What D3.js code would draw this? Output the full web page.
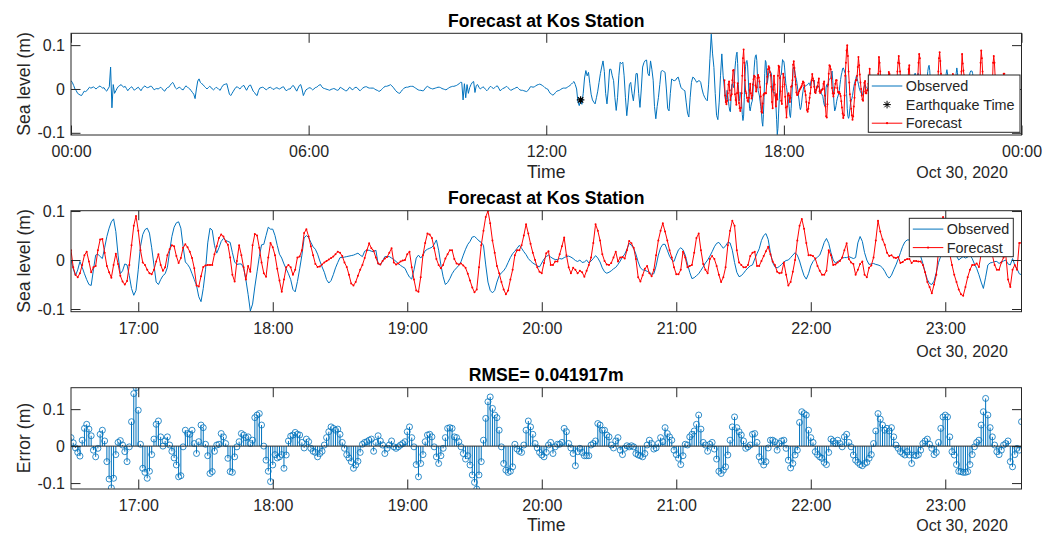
<!DOCTYPE html>
<html>
<head>
<meta charset="utf-8">
<script src="https://cdn.jsdelivr.net/npm/d3@7"></script>
<style>
body { margin: 0; background: #fff; }
svg { font-family: "Liberation Sans", Arial, Helvetica, sans-serif; }
.axis path.domain { display: none; }
.axis line { stroke: #262626; }
.axis text { fill: #262626; font-size: 16px; font-family: "Liberation Sans", Arial, sans-serif; }
</style>
</head>
<body>
<div id="chart"></div>
<script>
// ---- data (sea level in m) ----
const dateLabel = "Oct 30, 2020";
const stationTitle = "Forecast at Kos Station";
const rmseTitle = "RMSE= 0.041917m";

// observed record before the forecast window, one value every 2 minutes from 00:00
const earlyStart = "00:00";
const earlyStepMin = 2;
const earlyObserved = [
  0.019, 0.015, 0.008, 0.0, -0.004, -0.01, -0.012, -0.014, -0.015, -0.01,
  -0.005, -0.006, -0.004, 0.0, 0.004, 0.002, 0.003, 0.005, 0.002, 0.0,
  0.003, 0.005, 0.007, 0.004, 0.002, 0.003, -0.002, -0.005, 0.0, 0.005,
  0.05, -0.043, 0.01, -0.01, -0.004, 0.002, 0.006, 0.008, 0.01, 0.006,
  0.004, 0.006, 0.001, -0.004, 0.0, 0.003, 0.005, 0.001, -0.003, 0.0,
  0.002, 0.004, 0.0, -0.004, 0.001, 0.005, 0.007, 0.004, 0.003, 0.004,
  0.006, 0.006, 0.002, -0.002, 0.0, 0.001, 0.0, 0.002, 0.004, 0.001,
  -0.003, -0.005, 0.0, 0.003, 0.004, 0.008, 0.012, 0.015, 0.01, 0.003,
  0.0, 0.002, 0.004, 0.002, -0.001, -0.002, 0.003, 0.007, 0.005, 0.002,
  0.0, -0.004, -0.008, -0.012, -0.022, 0.0, 0.018, 0.023, 0.015, 0.012,
  0.01, 0.006, 0.003, 0.0, 0.003, 0.006, 0.004, 0.0, -0.002, 0.001,
  0.004, 0.002, -0.001, -0.003, 0.003, 0.008, 0.01, 0.011, 0.012, 0.0,
  -0.012, -0.015, -0.01, -0.005, 0.0, 0.004, 0.005, 0.002, 0.0, 0.004,
  0.007, 0.008, 0.002, -0.003, 0.003, 0.008, 0.009, 0.002, -0.005, -0.008,
  -0.013, -0.015, -0.004, 0.002, 0.003, 0.004, 0.003, 0.0, -0.002, 0.001,
  0.003, 0.004, 0.002, -0.001, 0.0, 0.002, 0.003, 0.001, 0.0, 0.002,
  0.004, 0.005, 0.0, -0.004, -0.002, 0.0, 0.0, 0.004, 0.008, 0.006,
  0.0, -0.005, 0.002, 0.008, 0.01, 0.0, -0.015, -0.008, -0.002, 0.0,
  0.002, 0.003, 0.001, -0.002, 0.0, 0.003, 0.004, 0.006, 0.009, 0.01,
  0.005, 0.002, 0.001, 0.0, -0.001, -0.002, -0.003, -0.001, 0.0, 0.001,
  0.0, -0.002, -0.003, -0.001, 0.004, 0.002, 0.0, -0.002, -0.004, -0.004,
  0.0, 0.004, 0.002, -0.002, 0.0, 0.003, 0.004, 0.002, -0.002, -0.004,
  -0.001, 0.002, 0.004, 0.005, 0.005, 0.003, 0.002, 0.002, 0.002, 0.002,
  0.0, -0.002, -0.003, -0.005, -0.005, -0.002, 0.001, 0.004, 0.006, 0.006,
  0.007, 0.008, 0.01, 0.007, 0.004, 0.0, -0.004, -0.007, -0.009, -0.01,
  -0.006, -0.002, 0.001, 0.003, 0.004, 0.004, 0.005, 0.006, 0.006, 0.006,
  0.004, 0.002, 0.0, -0.002, -0.003, -0.003, -0.004, -0.004, 0.0, 0.004,
  0.006, 0.004, 0.002, 0.001, 0.0, 0.001, 0.002, 0.003, 0.004, 0.004,
  0.003, 0.001, 0.0, -0.001, -0.002, 0.0, 0.002, 0.004, 0.005, 0.006,
  0.006, 0.007, 0.008, 0.01, 0.012, 0.015, 0.015, -0.025, 0.012, -0.02,
  0.01, -0.01, 0.003, 0.01, 0.015, 0.017, -0.008, 0.008, 0.01, 0.004,
  0.0, 0.002, 0.005, 0.003, -0.001, -0.004, -0.001, 0.004, 0.006, 0.003,
  0.001, 0.003, 0.006, 0.007, 0.002, -0.004, -0.002, 0.001, 0.002, 0.004,
  0.006, 0.003, 0.0, -0.003, -0.002, 0.0, 0.001, 0.003, 0.004, 0.001,
  -0.002, -0.003, -0.003, -0.004, -0.005, -0.006, -0.004, 0.0, 0.005, 0.005,
  0.004, 0.005, 0.007, 0.009, 0.01, 0.011, 0.01, 0.008, 0.006, 0.003,
  0.001, 0.0, -0.005, -0.01, -0.012, -0.014, -0.012, -0.008, -0.005, -0.004,
  -0.003, -0.001, 0.001, 0.002, 0.002, 0.002, 0.004, 0.006, 0.008, 0.011,
  0.014, 0.017, 0.01, 0.0, -0.03, -0.038, -0.025, -0.035, -0.01, 0.025,
  0.042, 0.03, 0.038, 0.012, -0.012, -0.025, -0.03, -0.034, -0.02, -0.005,
  0.015, 0.035, 0.05, 0.064, 0.04, -0.01, -0.034, 0.0, 0.045, 0.045,
  0.03, 0.019, -0.02, -0.049, -0.02, 0.03, 0.061, 0.058, 0.061, 0.03,
  -0.02, -0.061, -0.03, 0.01, 0.015, -0.01, -0.027, 0.0, 0.035, 0.035,
  -0.01, -0.042, 0.0, 0.05, 0.06, 0.065, 0.066, 0.035, 0.03, 0.064,
  0.045, 0.02, -0.04, -0.068, -0.04, -0.019, 0.01, 0.04, 0.042, 0.04,
  0.038, 0.0, -0.045, -0.05, -0.01, 0.023, 0.02, 0.019, 0.02, 0.025,
  0.027, 0.015, 0.004, 0.0, -0.002, -0.004, -0.03, -0.055, -0.064, -0.02,
  0.015, 0.027, 0.025, 0.02, 0.015, 0.018, 0.019, 0.015, 0.0, -0.012,
  -0.019, -0.024, -0.027, 0.011, 0.07, 0.125, 0.08, 0.049, -0.01, -0.06,
  -0.07, -0.03, 0.03, 0.08, 0.03
];

// forecast window, one value per minute from 16:30 to 23:34
const windowStart = "16:30";
const windowStepMin = 1;
const windowObserved = [
  0.000, -0.018, -0.032, -0.02, -0.003, -0.015, -0.028, -0.04, -0.05, -0.052,
  -0.02, 0.01, 0.012, 0.007, 0.003, 0.025, 0.048, 0.065, 0.078, 0.084,
  0.058, 0.01, -0.028, -0.022, -0.008, -0.01, -0.032, -0.058, -0.072, -0.062,
  -0.02, 0.028, 0.052, 0.062, 0.065, 0.055, 0.025, -0.01, -0.045, -0.05,
  -0.04, -0.032, -0.028, -0.015, 0.018, 0.048, 0.067, 0.076, 0.078, 0.065,
  0.028, -0.004, -0.009, -0.016, -0.028, -0.04, -0.052, -0.075, -0.085, -0.058,
  -0.02, 0.035, 0.065, 0.061, 0.03, 0.014, 0.025, 0.038, 0.044, 0.04,
  0.038, 0.036, 0.015, -0.004, -0.009, -0.008, -0.008, -0.016, -0.04, -0.07,
  -0.104, -0.09, -0.055, -0.024, 0.007, 0.031, 0.032, 0.05, 0.067, 0.063,
  0.063, 0.05, 0.03, 0.012, 0.004, -0.008, -0.018, -0.028, -0.04, -0.06,
  -0.065, -0.044, -0.018, 0.01, 0.045, 0.05, 0.046, 0.036, 0.027, 0.022,
  0.012, -0.002, -0.014, -0.025, -0.04, -0.047, -0.042, -0.03, -0.016, -0.005,
  0.005, 0.005, 0.006, 0.007, 0.008, 0.009, 0.01, 0.012, 0.014, 0.01,
  0.007, 0.018, 0.02, 0.02, 0.018, 0.017, 0.02, -0.008, -0.01, -0.002,
  0.007, 0.007, 0.007, 0.004, 0.001, -0.003, -0.007, -0.011, -0.014, -0.017,
  -0.027, -0.035, -0.039, -0.02, 0.004, 0.01, 0.004, 0.01, 0.019, 0.022,
  0.024, 0.026, 0.032, 0.041, 0.02, -0.01, -0.034, -0.05, -0.046, -0.038,
  -0.028, -0.021, -0.016, -0.011, -0.003, 0.01, 0.022, 0.032, 0.038, 0.047,
  0.048, 0.044, 0.039, 0.036, 0.03, -0.01, -0.045, -0.062, -0.067, -0.062,
  -0.045, -0.032, -0.026, -0.022, -0.015, -0.005, 0.005, 0.013, 0.018, 0.024,
  0.03, 0.024, 0.017, 0.011, 0.003, -0.002, -0.006, -0.009, -0.012, -0.014,
  -0.006, 0.002, 0.007, 0.01, 0.006, 0.003, 0.001, 0.001, 0.003, 0.002,
  0.005, 0.007, 0.008, 0.006, 0.003, -0.001, -0.003, 0.0, -0.005, -0.004,
  0.0, -0.006, -0.002, 0.003, 0.009, 0.004, -0.004, -0.016, -0.024, -0.027,
  -0.025, -0.022, -0.018, -0.015, -0.009, -0.002, 0.006, 0.012, 0.022, 0.034,
  0.03, 0.024, 0.012, -0.004, -0.016, -0.02, -0.021, -0.023, -0.025, -0.029,
  -0.028, -0.012, 0.01, 0.025, 0.032, 0.032, 0.02, 0.008, 0.0, -0.003,
  0.01, 0.021, 0.025, 0.021, 0.01, -0.008, -0.025, -0.038, -0.036, -0.032,
  -0.028, -0.021, -0.014, -0.006, 0.0, 0.008, 0.017, 0.027, 0.034, 0.036,
  0.03, 0.024, 0.029, 0.036, 0.035, 0.02, -0.005, -0.025, -0.034, -0.032,
  -0.027, -0.021, -0.016, -0.012, -0.01, 0.002, 0.013, 0.023, 0.04, 0.05,
  0.054, 0.042, 0.015, -0.005, -0.014, -0.016, -0.013, -0.009, -0.004, -0.001,
  0.0, 0.005, 0.01, 0.015, 0.01, -0.002, -0.018, -0.032, -0.039, -0.028,
  -0.012, -0.003, 0.002, 0.006, 0.01, 0.022, 0.036, 0.044, 0.034, 0.015,
  0.0, -0.006, -0.003, 0.0, 0.004, 0.005, 0.005, 0.007, 0.005, 0.003,
  0.005, 0.035, 0.048, 0.038, 0.015, 0.0, -0.009, -0.008, -0.007, -0.009,
  -0.01, -0.012, -0.016, -0.023, -0.032, -0.037, -0.031, -0.02, -0.01, 0.002,
  0.015, 0.028, 0.037, 0.041, 0.041, 0.041, 0.035, 0.025, 0.02, 0.008,
  -0.007, -0.025, -0.04, -0.048, -0.05, -0.043, -0.025, -0.005, 0.008, 0.018,
  0.024, 0.028, 0.031, 0.024, 0.017, 0.008, 0.0, 0.004, 0.007, 0.004,
  0.006, 0.01, 0.003, -0.008, -0.017, -0.03, -0.045, -0.058, -0.035, -0.01,
  -0.006, -0.005, -0.003, -0.003, -0.007, -0.004, -0.002, 0.0, -0.008, -0.01,
  0.003, -0.01, -0.018, -0.028, -0.03
];
const windowForecast = [
  0.02, -0.015, -0.03, -0.035, -0.027, -0.01, 0.01, 0.017, -0.003, -0.025,
  -0.015, -0.012, 0.02, 0.042, 0.043, 0.015, -0.012, -0.025, -0.036, -0.01,
  0.013, -0.008, -0.032, -0.044, -0.05, -0.043, -0.01, 0.03, 0.07, 0.09,
  0.06, 0.02, -0.005, -0.01, -0.02, -0.027, -0.029, -0.02, -0.003, 0.012,
  -0.01, -0.022, -0.015, 0.01, 0.022, 0.03, 0.028, 0.008, -0.006, 0.004,
  0.025, 0.032, 0.026, 0.017, 0.004, -0.017, -0.052, -0.054, -0.033, -0.014,
  -0.011, -0.01, -0.01, -0.01, 0.012, 0.028, 0.045, 0.052, 0.048, 0.038,
  0.031, 0.005, -0.03, -0.044, -0.002, 0.03, 0.01, -0.015, -0.04, -0.012,
  -0.024, 0.03, 0.053, 0.05, 0.025, -0.005, -0.027, -0.034, 0.005, 0.035,
  0.026, 0.01, -0.018, -0.042, -0.065, -0.04, -0.015, -0.01, -0.015, -0.03,
  -0.02, 0.005, 0.007, 0.02, 0.055, 0.063, 0.048, 0.028, 0.01, -0.008,
  -0.014, -0.013, -0.009, -0.005, -0.002, 0.001, 0.004, 0.007, 0.012, 0.017,
  0.015, 0.008, -0.005, -0.014, -0.03, -0.048, -0.052, -0.045, -0.032, -0.02,
  -0.01, 0.004, 0.02, 0.034, 0.024, 0.019, 0.005, -0.007, -0.009, -0.002,
  0.003, 0.006, 0.015, 0.024, -0.005, -0.009, -0.007, -0.003, -0.001, 0.0,
  0.012, 0.017, -0.015, -0.04, -0.062, -0.065, -0.035, 0.01, 0.035, 0.054,
  0.052, 0.045, 0.024, 0.002, -0.01, -0.017, -0.01, 0.003, 0.012, 0.02,
  0.02, 0.002, -0.007, -0.009, -0.007, -0.011, -0.016, -0.028, -0.042, -0.056,
  -0.066, -0.06, -0.015, 0.03, 0.06, 0.088, 0.1, 0.075, 0.04, 0.015,
  -0.012, -0.027, -0.045, -0.06, -0.07, -0.062, -0.04, -0.02, 0.01, 0.02,
  0.02, 0.03, 0.05, 0.073, 0.054, 0.033, 0.015, 0.0, -0.015, -0.024,
  -0.027, -0.006, 0.014, 0.018, -0.01, -0.01, -0.003, -0.003, 0.012, 0.028,
  0.046, 0.01, -0.015, -0.027, -0.016, -0.02, -0.027, -0.022, -0.025, -0.034,
  -0.022, -0.01, 0.005, 0.035, 0.073, 0.06, 0.04, 0.012, -0.002, -0.009,
  -0.01, -0.006, 0.005, 0.017, -0.003, 0.005, 0.006, 0.003, 0.02, 0.039,
  0.034, 0.025, 0.002, -0.035, -0.044, -0.031, -0.018, -0.012, -0.027, -0.033,
  -0.02, 0.01, 0.04, 0.06, 0.075, 0.058, 0.04, 0.02, 0.005, -0.015,
  -0.029, -0.029, -0.02, 0.017, 0.005, -0.015, -0.012, -0.01, 0.015, 0.045,
  0.054, 0.02, -0.008, -0.02, -0.027, 0.002, 0.008, 0.002, -0.012, -0.03,
  -0.045, -0.035, -0.015, 0.03, 0.06, 0.08, 0.07, 0.02, -0.005, -0.01,
  -0.015, -0.015, -0.01, 0.008, 0.015, 0.017, -0.012, -0.012, -0.002, 0.008,
  0.018, 0.027, 0.012, -0.003, -0.01, -0.024, -0.027, -0.026, -0.005, -0.03,
  -0.052, -0.045, -0.024, 0.0, 0.04, 0.07, 0.084, 0.064, 0.035, 0.01,
  0.01, 0.008, 0.003, -0.012, -0.022, -0.03, -0.03, -0.022, 0.02, 0.01,
  -0.01, -0.009, -0.005, -0.002, 0.005, 0.02, 0.034, 0.002, -0.005, -0.008,
  -0.03, -0.02, -0.008, -0.003, -0.03, -0.035, -0.016, -0.011, 0.005, 0.04,
  0.08, 0.058, 0.042, 0.031, 0.015, 0.008, 0.01, 0.005, 0.004, 0.006,
  -0.006, -0.004, 0.0, 0.002, 0.002, -0.006, -0.002, -0.002, -0.003, -0.003,
  -0.01, -0.025, -0.045, -0.055, -0.068, -0.05, -0.03, 0.02, 0.06, 0.088,
  0.07, 0.04, 0.012, -0.01, -0.03, -0.045, -0.06, -0.07, -0.073, -0.055,
  -0.035, -0.02, -0.01, -0.01, -0.007, -0.014, 0.012, 0.06, 0.075, 0.06,
  0.03, 0.01, -0.01, -0.02, -0.02, -0.005, 0.005, 0.01, -0.04, -0.055,
  -0.02, -0.01, -0.02, 0.035, 0.035
];
const windowError = [
  0.023, 0.009, -0.005, -0.017, -0.027, 0.016, 0.048, 0.059, 0.046, 0.028,
  -0.011, -0.029, -0.006, 0.032, 0.043, 0.014, -0.042, -0.089, -0.113, -0.087,
  -0.023, 0.01, 0.015, 0.003, -0.015, -0.042, -0.002, 0.066, 0.142, 0.158,
  0.097, 0.005, -0.06, -0.071, -0.087, -0.068, -0.023, 0.019, 0.059, 0.068,
  0.025, 0.0, 0.014, 0.025, 0.003, -0.014, -0.032, -0.051, -0.083, -0.08,
  -0.002, 0.043, 0.034, 0.032, 0.043, 0.007, -0.02, 0.012, 0.057, 0.05,
  0.005, -0.026, -0.074, -0.069, -0.014, 0.003, 0.005, 0.034, 0.025, 0.007,
  -0.033, -0.069, -0.071, -0.029, -0.002, 0.012, 0.034, 0.03, 0.023, 0.025,
  0.007, 0.016, 0.077, 0.084, 0.088, 0.057, 0.0, -0.038, -0.068, -0.096,
  -0.051, -0.023, -0.032, -0.029, -0.023, -0.06, -0.024, 0.014, 0.027, 0.03,
  0.037, 0.032, 0.03, 0.01, -0.005, 0.019, 0.012, -0.006, -0.014, -0.017,
  -0.029, -0.02, -0.014, 0.003, 0.023, 0.039, 0.052, 0.048, 0.043, 0.046,
  0.032, 0.01, -0.006, -0.023, -0.032, -0.042, -0.06, -0.051, -0.041, -0.017,
  0.005, 0.01, 0.012, 0.016, 0.019, -0.014, 0.01, 0.028, 0.014, 0.003,
  -0.02, -0.006, 0.003, 0.014, -0.002, -0.006, -0.002, 0.003, 0.007, 0.012,
  0.039, 0.052, 0.023, -0.002, -0.05, -0.083, -0.047, -0.023, 0.012, 0.03,
  0.032, 0.025, -0.002, -0.029, -0.047, -0.026, -0.006, 0.023, 0.048, 0.05,
  0.048, 0.025, 0.023, 0.012, -0.002, -0.02, -0.035, -0.026, -0.051, -0.078,
  -0.098, -0.116, -0.078, -0.042, 0.016, 0.075, 0.12, 0.133, 0.102, 0.084,
  0.077, 0.043, -0.002, -0.047, -0.065, -0.071, -0.068, -0.056, 0.005, -0.008,
  -0.014, -0.017, 0.003, 0.043, 0.068, 0.052, 0.032, 0.007, -0.005, -0.017,
  -0.024, -0.029, -0.017, 0.003, 0.01, -0.02, -0.002, 0.005, 0.005, 0.01,
  0.048, 0.039, 0.007, -0.005, -0.02, -0.053, -0.015, -0.006, -0.017, -0.026,
  -0.026, -0.026, 0.003, 0.007, 0.014, 0.061, 0.057, 0.043, 0.043, 0.03,
  0.025, 0.003, -0.005, 0.014, 0.023, -0.011, -0.023, -0.006, 0.001, -0.002,
  0.001, -0.002, -0.02, -0.024, -0.026, -0.029, -0.02, 0.003, 0.016, 0.007,
  -0.008, -0.005, 0.007, 0.023, 0.012, 0.05, 0.034, 0.025, 0.016, -0.011,
  -0.023, -0.033, -0.05, -0.026, 0.005, 0.003,
  0.025, 0.032, 0.041, 0.059, 0.084, 0.046, 0.01, 0.003, -0.014, 0.005,
  0.01, -0.008, -0.035, -0.068, -0.074, -0.065, -0.056, -0.024, 0.016, 0.052,
  0.079, 0.05, 0.039, 0.03, 0.014, -0.006, -0.002, 0.003, 0.032, 0.034,
  0.01, -0.029, -0.041, -0.051, -0.042, -0.005, 0.016, 0.016, 0.012, -0.011,
  0.007, 0.014, 0.016, -0.006, -0.038, -0.059, -0.047, -0.024, -0.011, 0.064,
  0.093, 0.088, 0.084, 0.043, 0.023, 0.01, -0.015, -0.023, -0.029, -0.033,
  -0.044, -0.05, -0.017, 0.019, 0.014, 0.007, 0.016, 0.007, -0.002, 0.025,
  0.032, 0.01, -0.002, -0.024, -0.038, -0.044, -0.05, -0.053, -0.047, -0.044,
  -0.033, -0.023, 0.007, 0.041, 0.088, 0.073, 0.057, 0.043, 0.048, 0.041,
  0.05, 0.025, 0.003, -0.006, -0.015, -0.02, -0.024, -0.015, -0.024, -0.047,
  -0.024, -0.026, -0.023, -0.011, 0.007, 0.014, 0.019, 0.005, -0.006, -0.023,
  -0.017, 0.01, 0.048, 0.079, 0.084, 0.079, 0.025, -0.015, -0.024, -0.05,
  -0.068, -0.069, -0.071, -0.071, -0.069, -0.05, -0.023, -0.002, 0.01, 0.016,
  0.057, 0.093, 0.129, 0.084, 0.05, 0.025, 0.003, -0.015, -0.023, -0.011,
  0.003, 0.007, 0.014, -0.042, -0.056, -0.023, -0.006, -0.011, 0.066
];

const quakeTime = "12:52";
const quakeLevel = -0.025;

const dayTickHours = [0, 6, 12, 18, 24];
const windowTickHours = [17, 18, 19, 20, 21, 22, 23];
const levelTicks = [-0.1, 0, 0.1];

// ---- layout ----
const width = 1056, height = 535;
const plotLeft = 71, plotRight = 1021.5;
const blue = "#0072BD", red = "#FF0000", ink = "#262626";

function minutesOf(clock) {
  var parts = clock.split(":").map(Number);
  return parts[0] * 60 + parts[1];
}
function toDate(min) {
  return new Date(2020, 9, 30, 0, min);
}
function series(startClock, step, values) {
  var t0 = minutesOf(startClock);
  return values.map(function(v, i) { return { t: toDate(t0 + i * step), v: v }; });
}

var earlyPts = series(earlyStart, earlyStepMin, earlyObserved);
var obsPts = series(windowStart, windowStepMin, windowObserved);
var fcPts = series(windowStart, windowStepMin, windowForecast);
var errPts = series(windowStart, windowStepMin, windowError);
var dayObsPts = earlyPts.concat(obsPts);

var svg = d3.select("#chart").append("svg")
  .attr("width", width)
  .attr("height", height);
var defs = svg.append("defs");

function createPanel(id, top, bottom, xDomain, yDomain) {
  var x = d3.scaleTime().domain(xDomain).range([plotLeft, plotRight]);
  var y = d3.scaleLinear().domain(yDomain).range([bottom, top]);
  var g = svg.append("g").attr("id", id);

  defs.append("clipPath").attr("id", "clip-" + id)
    .append("rect")
    .attr("x", plotLeft).attr("y", top)
    .attr("width", plotRight - plotLeft).attr("height", bottom - top);

  var plot = g.append("g").attr("clip-path", "url(#clip-" + id + ")");
  return { x: x, y: y, g: g, plot: plot, top: top, bottom: bottom };
}

function drawAxes(p, xTicks) {
  var fmt = d3.timeFormat("%H:%M");
  var blank = function() { return ""; };

  p.g.append("g").attr("class", "axis")
    .attr("transform", "translate(0," + p.bottom + ")")
    .call(d3.axisBottom(p.x).tickValues(xTicks).tickFormat(fmt)
      .tickSizeInner(-9.5).tickSizeOuter(0).tickPadding(11));
  p.g.append("g").attr("class", "axis")
    .attr("transform", "translate(0," + p.top + ")")
    .call(d3.axisTop(p.x).tickValues(xTicks).tickFormat(blank)
      .tickSizeInner(-9.5).tickSizeOuter(0));
  p.g.append("g").attr("class", "axis")
    .attr("transform", "translate(" + plotLeft + ",0)")
    .call(d3.axisLeft(p.y).tickValues(levelTicks).tickFormat(function(d) { return String(d); })
      .tickSizeInner(-9.5).tickSizeOuter(0).tickPadding(6));
  p.g.append("g").attr("class", "axis")
    .attr("transform", "translate(" + plotRight + ",0)")
    .call(d3.axisRight(p.y).tickValues(levelTicks).tickFormat(blank)
      .tickSizeInner(-9.5).tickSizeOuter(0));

  // box
  p.g.append("rect")
    .attr("x", plotLeft).attr("y", p.top)
    .attr("width", plotRight - plotLeft).attr("height", p.bottom - p.top)
    .attr("fill", "none")
    .attr("stroke", ink)
    .attr("stroke-width", 1);
}

function addText(g, x, y, str, opts) {
  opts = opts || {};
  var t = g.append("text")
    .attr("x", x).attr("y", y)
    .attr("fill", opts.fill || ink)
    .attr("text-anchor", opts.anchor || "middle")
    .style("font-size", (opts.size || 17.6) + "px")
    .style("font-weight", opts.bold ? "bold" : "normal")
    .text(str);
  if (opts.rotate) t.attr("transform", "rotate(-90," + x + "," + y + ")");
  return t;
}

function drawLine(p, pts, color) {
  p.plot.append("path")
    .datum(pts)
    .attr("fill", "none")
    .attr("stroke", color)
    .attr("stroke-width", 1)
    .attr("stroke-linejoin", "round")
    .attr("d", d3.line().x(function(d) { return p.x(d.t); }).y(function(d) { return p.y(d.v); }));
}

function drawDots(p, pts, color) {
  p.plot.append("g").selectAll("circle")
    .data(pts)
    .join("circle")
    .attr("cx", function(d) { return p.x(d.t); })
    .attr("cy", function(d) { return p.y(d.v); })
    .attr("r", 1)
    .attr("fill", color);
}

var asterisk = "M-3.8,0L3.8,0M0,-3.8L0,3.8M-2.7,-2.7L2.7,2.7M-2.7,2.7L2.7,-2.7";

function drawLegend(g, box, rows) {
  g.append("rect")
    .attr("x", box.x).attr("y", box.y)
    .attr("width", box.w).attr("height", box.h)
    .attr("fill", "#fff")
    .attr("stroke", ink)
    .attr("stroke-width", 1);
  rows.forEach(function(r, i) {
    var cy = box.y + box.pad + i * box.row;
    var x0 = box.x + 3.5, x1 = box.x + 34, xm = (x0 + x1) / 2;
    if (r.kind === "line" || r.kind === "lineDot") {
      g.append("line")
        .attr("x1", x0).attr("x2", x1).attr("y1", cy).attr("y2", cy)
        .attr("stroke", r.color).attr("stroke-width", 1);
    }
    if (r.kind === "lineDot") {
      g.append("circle").attr("cx", xm).attr("cy", cy).attr("r", 1.1).attr("fill", r.color);
    }
    if (r.kind === "star") {
      g.append("path")
        .attr("transform", "translate(" + xm + "," + cy + ")")
        .attr("d", asterisk)
        .attr("stroke", r.color).attr("stroke-width", 1);
    }
    addText(g, box.x + 37.5, cy + 5, r.label, { anchor: "start", size: 14.4 });
  });
}

var centerX = (plotLeft + plotRight) / 2;

// ---- panel 1: whole day ----
var p1 = createPanel("p1", 33.3, 135,
  [toDate(0), toDate(24 * 60)], [-0.105, 0.127]);
drawLine(p1, dayObsPts, blue);
p1.plot.append("path")
  .attr("transform", "translate(" + p1.x(toDate(minutesOf(quakeTime))) + "," + p1.y(quakeLevel) + ")")
  .attr("d", asterisk)
  .attr("stroke", "#000")
  .attr("stroke-width", 1.2);
drawLine(p1, fcPts, red);
drawDots(p1, fcPts, red);
drawAxes(p1, dayTickHours.map(function(h) { return toDate(h * 60); }));
addText(p1.g, centerX, 26.5, stationTitle, { bold: true, fill: "#000" });
addText(p1.g, centerX, 178, "Time");
addText(p1.g, 962, 178, dateLabel, { size: 16 });
addText(p1.g, 30, 84, "Sea level (m)", { rotate: true });
drawLegend(p1.g, { x: 868.3, y: 75, w: 151.7, h: 57.3, pad: 11, row: 18.6 }, [
  { kind: "line", color: blue, label: "Observed" },
  { kind: "star", color: "#000", label: "Earthquake Time" },
  { kind: "lineDot", color: red, label: "Forecast" }
]);

// ---- panel 2: forecast window ----
var winDomain = [toDate(minutesOf(windowStart)), toDate(minutesOf(windowStart) + (windowObserved.length - 1) * windowStepMin)];
var winTicks = windowTickHours.map(function(h) { return toDate(h * 60); });

var p2 = createPanel("p2", 210.7, 311.7, winDomain, [-0.1055, 0.1007]);
drawLine(p2, obsPts, blue);
drawLine(p2, fcPts, red);
drawDots(p2, fcPts, red);
drawAxes(p2, winTicks);
addText(p2.g, centerX, 203.5, stationTitle, { bold: true, fill: "#000" });
addText(p2.g, 962, 357, dateLabel, { size: 16 });
addText(p2.g, 30, 261, "Sea level (m)", { rotate: true });
drawLegend(p2.g, { x: 909.3, y: 218.3, w: 104, h: 38.4, pad: 10.8, row: 18.5 }, [
  { kind: "line", color: blue, label: "Observed" },
  { kind: "lineDot", color: red, label: "Forecast" }
]);

// ---- panel 3: error stems ----
var p3 = createPanel("p3", 387.7, 489, winDomain, [-0.116, 0.158]);
var stems = p3.plot.append("g");
stems.selectAll("line")
  .data(errPts)
  .join("line")
  .attr("x1", function(d) { return p3.x(d.t); })
  .attr("x2", function(d) { return p3.x(d.t); })
  .attr("y1", p3.y(0))
  .attr("y2", function(d) { return p3.y(d.v); })
  .attr("stroke", blue)
  .attr("stroke-width", 1);
p3.plot.append("line")
  .attr("x1", plotLeft).attr("x2", plotRight)
  .attr("y1", p3.y(0)).attr("y2", p3.y(0))
  .attr("stroke", ink).attr("stroke-width", 1);
stems.selectAll("circle")
  .data(errPts)
  .join("circle")
  .attr("cx", function(d) { return p3.x(d.t); })
  .attr("cy", function(d) { return p3.y(d.v); })
  .attr("r", 3)
  .attr("fill", "none")
  .attr("stroke", blue)
  .attr("stroke-width", 0.8);
drawAxes(p3, winTicks);
addText(p3.g, centerX, 381, rmseTitle, { bold: true, fill: "#000" });
addText(p3.g, centerX, 531, "Time");
addText(p3.g, 962, 531, dateLabel, { size: 16 });
addText(p3.g, 30, 438, "Error (m)", { rotate: true });
</script>
</body>
</html>
